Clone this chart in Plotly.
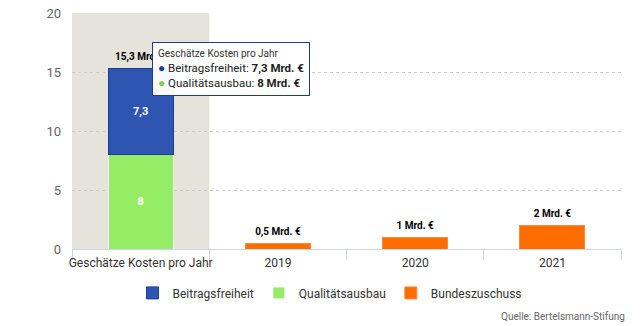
import plotly.graph_objects as go

categories = ["Geschätze Kosten pro Jahr", "2019", "2020", "2021"]
qualitaet = [8, None, None, None]
beitrag = [7.3, None, None, None]
bund = [None, 0.5, 1, 2]
total_label = ["15,3 Mrd. €", "0,5 Mrd. €", "1 Mrd. €", "2 Mrd. €"]
y_ticks = [0, 5, 10, 15, 20]

FONT = "Roboto"
BLUE = "#2f55b3"
GREEN = "#95ec65"
ORANGE = "#ff6d00"

fig = go.Figure()
fig.add_trace(go.Bar(
    x=categories, y=qualitaet, name="Qualitätsausbau", legendrank=2,
    marker=dict(color=GREEN, line=dict(color="#ffffff", width=1)),
    text=["8", "", "", ""], textposition="inside", insidetextanchor="middle",
    textfont=dict(color="white", size=11, family=FONT, weight="bold"),
    hoverinfo="skip"))
fig.add_trace(go.Bar(
    x=categories, y=beitrag, name="Beitragsfreiheit", legendrank=1,
    marker=dict(color=BLUE, line=dict(color="#1d3a95", width=1)),
    text=["7,3", "", "", ""], textposition="inside", insidetextanchor="middle",
    textfont=dict(color="white", size=11, family=FONT, weight="bold"),
    hoverinfo="skip"))
fig.add_trace(go.Bar(
    x=categories, y=bund, name="Bundeszuschuss", legendrank=3,
    marker=dict(color=ORANGE, line=dict(color="#ff8a33", width=1)),
    hoverinfo="skip"))

totals = [(a or 0) + (b or 0) + (c or 0) for a, b, c in zip(qualitaet, beitrag, bund)]
fig.add_trace(go.Scatter(
    x=categories, y=totals, mode="markers+text", text=total_label,
    marker=dict(size=8, opacity=0),
    textposition="top center", showlegend=False, hoverinfo="skip",
    textfont=dict(color="#000000", size=10, family=FONT, weight="bold")))

fig.add_shape(type="rect", xref="x", yref="y", x0=-0.5, x1=0.5, y0=0, y1=20,
              fillcolor="#e6e3da", line=dict(width=0), layer="below")

fig.add_annotation(
    xref="paper", yref="paper", x=0.1457, y=0.877, xanchor="left", yanchor="top",
    align="left", showarrow=False,
    text=("<span style='font-size:10px;color:#333'>Geschätze Kosten pro Jahr</span><br>"
          "<span style='color:#1d3a95;font-size:12px'>●</span> Beitragsfreiheit: <b>7,3 Mrd. €</b><br>"
          "<span style='color:#7ad442;font-size:12px'>●</span> Qualitätsausbau: <b>8 Mrd. €</b>"),
    font=dict(family=FONT, size=11.5, color="#222"),
    bgcolor="rgba(255,255,255,0.97)", bordercolor="#1d3a95", borderwidth=1, borderpad=5)

fig.add_annotation(
    xref="paper", yref="paper", x=1.011, y=-0.288, xanchor="right", yanchor="middle",
    showarrow=False, text="Quelle: Bertelsmann-Stifung",
    font=dict(family=FONT, size=10, color="#666"))

fig.update_layout(
    width=640, height=326, margin=dict(l=72, r=19, t=13, b=77, autoexpand=False),
    paper_bgcolor="white", plot_bgcolor="white",
    barmode="stack", bargap=0.525,
    font=dict(family=FONT, color="#333"),
    legend=dict(orientation="h", x=0.47, xanchor="center", y=-0.186, yanchor="middle",
                font=dict(size=12, color="#333"), traceorder="normal"),
    showlegend=True,
)
fig.update_xaxes(type="category", showline=True, linecolor="#ccd6eb", linewidth=1,
                 ticks="outside", tickson="boundaries", ticklen=10, tickcolor="#ccd6eb",
                 tickangle=0, automargin=False, ticklabelstandoff=3,
                 tickfont=dict(size=12, color="#333"), showgrid=False)
fig.update_yaxes(range=[0, 20], tickvals=y_ticks, showgrid=True, gridcolor="#cccccc",
                 griddash="dot", zeroline=False, ticks="", ticklabelstandoff=10,
                 automargin=False, tickfont=dict(size=13, color="#666"))

fig.write_html("out.html")
